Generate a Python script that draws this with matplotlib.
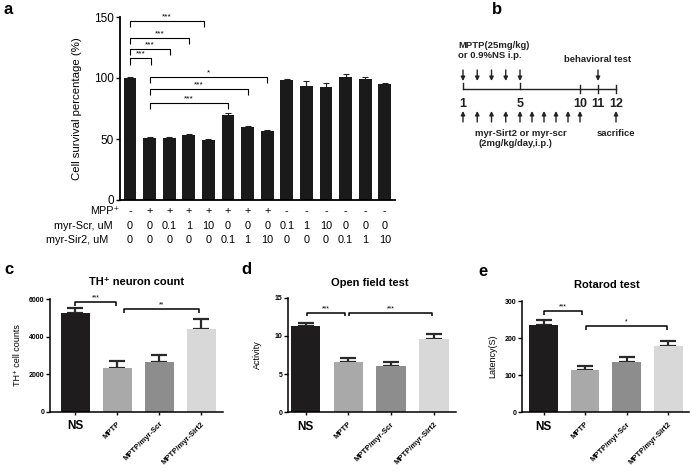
import matplotlib.pyplot as plt
import numpy as np
from matplotlib.transforms import blended_transform_factory

plt.rcParams['font.family'] = ['Liberation Sans', 'DejaVu Sans']

W, H = 700, 475

# ---------------- panel a : cell survival ----------------
survival = [100, 50.5, 51, 53, 49.5, 70, 60, 56.8, 98.6, 93.8, 93, 101, 99, 95]
survival_err = [1, 0.8, 0.5, 1.2, 0.3, 1.3, 0.3, 0.4, 0.4, 3.5, 3, 2.5, 1.5, 1]
mpp = ['-', '+', '+', '+', '+', '+', '+', '+', '-', '-', '-', '-', '-', '-']
scr = ['0', '0', '0.1', '1', '10', '0', '0', '0', '0.1', '1', '10', '0', '0', '0']
sir2 = ['0', '0', '0', '0', '0', '0.1', '1', '10', '0', '0', '0', '0.1', '1', '10']
row_names = ['MPP\u207a', 'myr-Scr, uM', 'myr-Sir2, uM']
# (from bar, to bar, height, stars)
sig_a = [(0, 1.05, 116, '***'), (0, 2.04, 123.5, '***'), (0, 3, 133, '***'),
         (0, 3.8, 147, '***'), (1.02, 5, 79.8, '***'), (1.02, 6, 90.7, '***'),
         (1.02, 7, 100.5, '*')]

# ---------------- panel b : timeline ----------------
mptp_days = [1, 2, 3, 4, 5]
myr_days = [1, 2, 3, 4, 5, 6, 7, 8, 9, 10]
behav_day = 11
sacrifice_day = 12
labelled_days = [1, 5, 10, 11, 12]

# ---------------- panels c, d, e ----------------
groups = ['NS', 'MPTP', 'MPTP/myr-Scr', 'MPTP/myr-Sirt2']
group_colors = ['#1e1c1d', '#a9a9a9', '#8d8d8d', '#d8d8d8']
th_counts = [5270, 2350, 2670, 4390]
th_err = [230, 370, 340, 550]
activity = [11.3, 6.62, 6.1, 9.55]
activity_err = [0.35, 0.5, 0.45, 0.7]
latency = [235, 114, 135, 179]
latency_err = [14, 11.5, 15, 14]


fig = plt.figure(figsize=(7, 4.75), dpi=100)


def px_axes(l, t, r, b):
    return fig.add_axes([l / W, 1 - b / H, (r - l) / W, (b - t) / H])


def bracket(ax, x1, x2, y, h, label, fs=6, lw=0.8):
    ax.plot([x1, x1, x2, x2], [y - h, y, y, y - h], color='k', lw=lw,
            clip_on=False, solid_capstyle='butt')
    ax.annotate(label, ((x1 + x2) / 2, y), xytext=(0, 0.5), textcoords='offset points',
                ha='center', va='bottom', fontsize=fs)


def panel_letter(x, y, s):
    fig.text(x / W, 1 - y / H, s, fontsize=12, fontweight='bold', ha='left', va='center')


# ---- a
ax = px_axes(120, 17, 395, 200)
xa = np.arange(len(survival))
ax.bar(xa, survival, width=0.65, color='#1a1a1a', zorder=2)
ax.errorbar(xa, survival, yerr=survival_err, fmt='none', ecolor='#222222',
            elinewidth=0.8, capsize=2.5, capthick=0.8, zorder=1)
ax.set_xlim(-0.51, 13.52)
ax.set_ylim(0, 150)
ax.set_yticks([0, 50, 100, 150])
ax.tick_params(axis='y', labelsize=8.5, length=3, width=1, pad=1.5)
ax.set_xticks([])
for s in ['top', 'right']:
    ax.spines[s].set_visible(False)
for s in ['left', 'bottom']:
    ax.spines[s].set_linewidth(1.3)
ax.set_ylabel('Cell survival percentage (%)', fontsize=8.2)
ax.yaxis.set_label_coords(-0.138, 0.5)
for x1, x2, y, lab in sig_a:
    bracket(ax, x1, x2, y, 5, lab, fs=6)

tr = blended_transform_factory(ax.transData, ax.transAxes)
row_y = [(200 - 211) / 183, (200 - 226) / 183, (200 - 240) / 183]
row_x = [(119 - 130) / 19.6, (113 - 130) / 19.6, (108 - 130) / 19.6]
for rows, yy in zip([mpp, scr, sir2], row_y):
    for i, v in enumerate(rows):
        ax.text(i, yy, v, transform=tr, ha='center', va='center', fontsize=7.8)
for name, xx, yy in zip(row_names, row_x, row_y):
    ax.text(xx, yy, name, transform=tr, ha='right', va='center', fontsize=7.8)

panel_letter(4, 10, 'a')

# ---- c, d, e
specs = [
    ((50, 299, 223, 412), -0.6, 3.52, 6000, [0, 2000, 4000, 6000], th_counts, th_err,
     'TH\u207a cell counts', -0.16, 'TH\u207a neuron count', 137, 282,
     [(0, 0.97, 5857, 212, '***'), (1.17, 2.95, 5453, 212, '**')]),
    ((288, 297.7, 456, 412.3), -0.41, 3.52, 15, [0, 5, 10, 15], activity, activity_err,
     'Activity', -0.155, 'Open field test', 370, 283,
     [(0.03, 0.92, 13.04, 0.5, '***'), (1.02, 2.95, 13.04, 0.5, '***')]),
    ((522, 301, 689, 412.3), -0.52, 3.5, 300, [0, 100, 200, 300], latency, latency_err,
     'Latency(S)', -0.15, 'Rotarod test', 607, 285,
     [(0.01, 0.93, 274, 11, '***'), (1.01, 2.98, 232.6, 11, '*')]),
]
letters = [('c', 4, 270), ('d', 241, 270), ('e', 478, 272)]

for spec, (let, lx, ly) in zip(specs, letters):
    (box, x0, x1, ymax, yt, vals, errs, ylab, ylx, title, tx, ty, sigs) = spec
    ax = px_axes(*box)
    xg = np.arange(len(groups))
    ax.errorbar(xg, vals, yerr=[[0] * len(vals), errs], fmt='none', ecolor='#2a2a2a',
                elinewidth=1.6, capsize=5.5, capthick=1.6, zorder=1)
    ax.bar(xg, vals, width=0.69, color=group_colors, zorder=2)
    ax.set_xlim(x0, x1)
    ax.set_ylim(0, ymax)
    ax.set_yticks(yt)
    ax.tick_params(axis='y', labelsize=5, length=3, width=1, pad=1)
    for t in ax.get_yticklabels():
        t.set_fontweight('bold')
    ax.set_xticks(xg)
    ax.set_xticklabels(groups, rotation=45, ha='right', rotation_mode='anchor',
                       fontsize=5.5, fontweight='bold')
    ax.tick_params(axis='x', length=2, width=1, pad=4)
    lab0 = ax.get_xticklabels()[0]
    lab0.set_rotation(0)
    lab0.set_ha('center')
    lab0.set_rotation_mode('default')
    lab0.set_fontsize(8.5)
    for s in ['top', 'right']:
        ax.spines[s].set_visible(False)
    for s in ['left', 'bottom']:
        ax.spines[s].set_linewidth(1.1)
    ax.set_ylabel(ylab, fontsize=6.5)
    ax.yaxis.set_label_coords(ylx, 0.5)
    for a1, a2, y, h, lab in sigs:
        bracket(ax, a1, a2, y, h, lab, fs=5, lw=1.1)
    fig.text(tx / W, 1 - ty / H, title, fontsize=8, fontweight='bold',
             ha='center', va='center')
    panel_letter(lx, ly, let)

# ---- b (schematic drawn in pixel space)
axb = fig.add_axes([0, 0, 1, 1], facecolor='none')
axb.set_xlim(0, W)
axb.set_ylim(H, 0)
axb.axis('off')


def day_x(d):
    return np.interp(d, [1, 5, 10, 12], [463, 520, 580, 616])


arrow = dict(arrowstyle='-|>', color='#222222', lw=1.0, mutation_scale=6,
             shrinkA=0, shrinkB=0)
for d in mptp_days + [behav_day]:
    axb.annotate('', (day_x(d), 81), xytext=(day_x(d), 70), arrowprops=arrow)
for d in myr_days + [sacrifice_day]:
    axb.annotate('', (day_x(d), 111), xytext=(day_x(d), 122), arrowprops=arrow)
axb.plot([day_x(1), day_x(12)], [89, 89], color='#222222', lw=1.0)
for d in labelled_days:
    if d <= 5:
        axb.plot([day_x(d)] * 2, [83, 89], color='#222222', lw=1.0)
    else:
        axb.plot([day_x(d)] * 2, [85, 93], color='#222222', lw=1.0)
    axb.text(day_x(d), 104, str(d), ha='center', va='center', fontsize=9,
             fontweight='bold', color='#222222')
axb.text(458, 45, 'MPTP(25mg/kg)', ha='left', va='center', fontsize=6.8,
         fontweight='bold', color='#222222')
axb.text(458, 56, 'or 0.9%NS i.p.', ha='left', va='center', fontsize=6.8,
         fontweight='bold', color='#222222')
axb.text(day_x(behav_day), 60, 'behavioral test', ha='center', va='center',
         fontsize=6.8, fontweight='bold', color='#222222')
axb.text(521, 133, 'myr-Sirt2 or myr-scr', ha='center', va='center',
         fontsize=6.8, fontweight='bold', color='#222222')
axb.text(515, 143, '(2mg/kg/day,i.p.)', ha='center', va='center',
         fontsize=6.8, fontweight='bold', color='#222222')
axb.text(day_x(sacrifice_day), 133, 'sacrifice', ha='center', va='center',
         fontsize=6.8, fontweight='bold', color='#222222')
panel_letter(492, 10, 'b')

fig.savefig('out.png', dpi=100)
